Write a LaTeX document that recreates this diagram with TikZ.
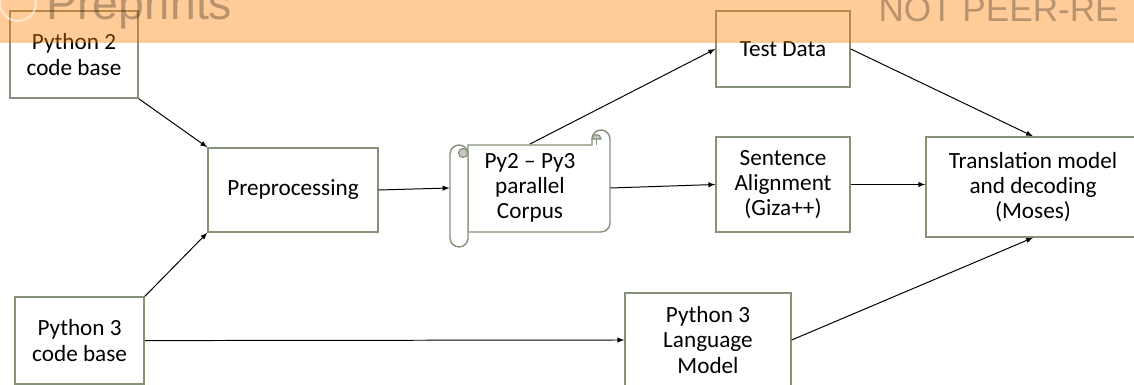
\documentclass[tikz,border=0pt]{standalone}
\usepackage{fontspec}
\setmainfont{Carlito}
\newfontfamily\wmfont{Liberation Sans}
\usetikzlibrary{arrows}

\definecolor{boxgreen}{RGB}{133,145,120}

\begin{document}
\begin{tikzpicture}[>=latex, line width=0.7pt,
  block/.style={rectangle, draw=boxgreen, line width=1pt, fill=white, align=center, inner sep=0pt, font=\fontsize{16.5}{18}\selectfont},
  scroll/.style={draw=boxgreen, line width=1pt, fill=white},
  curl/.style={draw=boxgreen, line width=0.8pt, fill=gray!45},
  wm/.style={inner sep=0pt, anchor=base west, text=black, text opacity=0.28}]
	\useasboundingbox (0,0) rectangle (28.35,9.625);

	% left column
	\node[block, minimum width=3.2cm, minimum height=2.175cm] (py2) at (1.85,8.2625) {Python 2\\code base};
	\node[block, minimum width=3.225cm, minimum height=2.175cm] (py3) at (1.99,1.11) {Python 3\\code base};
	\node[block, minimum width=4.25cm, minimum height=2.1cm] (prep) at (7.325,4.875) {Preprocessing};

	% the corpus scroll
	\node[inner sep=0pt, minimum width=4cm, minimum height=2.175cm] (corpus) at (13.25,4.925) {};
	\begin{scope}[shift={(corpus.center)}, x=0.025cm, y=0.025cm]
		\filldraw[scroll] (-62,-44) -- (71,-44) arc[start angle=-90, end angle=0, radius=0.225cm] -- (80,49) arc[start angle=0, end angle=180, radius=0.225cm] -- (62,43) -- (-62,43) -- cycle;
		\filldraw[curl] (62,49) arc[start angle=180, end angle=0, radius=0.1125cm] -- cycle;
		\draw[draw=boxgreen, line width=0.8pt] (66.5,49) -- (66.5,43);
		\filldraw[scroll] (-80,-50) -- (-80,34) arc[start angle=180, end angle=0, radius=0.225cm] -- (-62,-50) arc[start angle=0, end angle=-180, radius=0.225cm] -- cycle;
		\filldraw[curl] (-67,35) circle (0.1125cm);
	\end{scope}
	\node[align=center, inner sep=0pt, font=\fontsize{16.5}{18}\selectfont] (corpustext) at (corpus.center) {Py2 -- Py3\\parallel\\Corpus};

	% middle and right
	\node[block, minimum width=3.35cm, minimum height=1.9cm] (test) at (19.575,8.4) {Test Data};
	\node[block, minimum width=3.35cm, minimum height=2.375cm] (align) at (19.575,5.0125) {Sentence\\Alignment\\(Giza++)};
	\node[block, minimum width=4.15cm, minimum height=2.35cm] (lm) at (17.7,1.125) {Python 3\\Language\\Model};
	\node[block, minimum width=5.35cm, minimum height=2.5cm] (moses) at (25.825,4.95) {Translation model\\and decoding\\(Moses)};

	\draw[->] (py2.south east) -- (prep.north west);
	\draw[->] (py3.north east) -- (prep.south west);
	\draw[->] (prep.east) -- (corpus.west);
	\draw[->] (corpus.north) -- (test.west);
	\draw[->] (corpus.east) -- (align.west);
	\draw[->] (test.east) -- (moses.north);
	\draw[->] (align.east) -- (moses.west |- align.east);
	\draw[->] (py3.east) -- (lm.west);
	\draw[->] (lm.east) -- (moses.south);

	% watermark band
	\fill[orange, opacity=0.4] (0,8.55) rectangle (28.35,9.625);
	\draw[white, opacity=0.5, line width=1.5pt] (0.45,9.55) circle (0.45cm);
	\node[wm, font=\wmfont\fontsize{33}{33}\selectfont] (wmleft) at (1.15,9.125) {Preprints};
	\node[wm, font=\wmfont\fontsize{25}{25}\selectfont] (wmright) at (21.95,9.075) {NOT PEER-RE};
\end{tikzpicture}
\end{document}
